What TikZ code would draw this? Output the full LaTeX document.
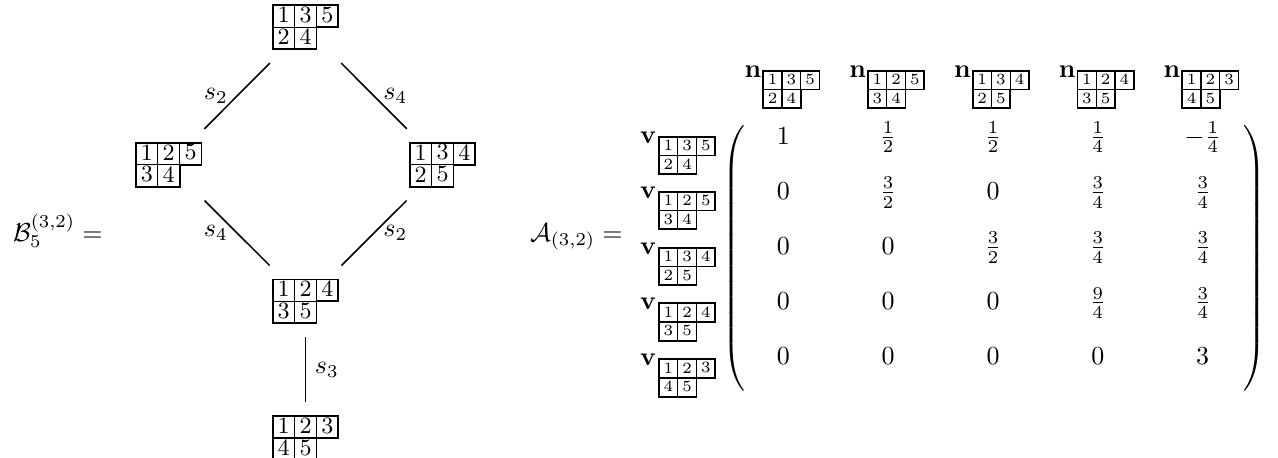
\documentclass[tikz,border=0pt]{standalone}
\usepackage{amsmath}
\tikzset{
  x=0.385pt, y=-0.385pt,
  big hub/.style={minimum width=34.7pt, minimum height=27.2pt, inner sep=0pt},
  small hub/.style={minimum width=1pt, minimum height=1pt, inner sep=0pt},
  big digit/.style={inner sep=0pt, font=\fontsize{9}{10}\selectfont, yshift=0.5pt},
  small digit/.style={inner sep=0pt, font=\fontsize{6}{7}\selectfont, yshift=0.3pt},
  yframe/.style={line width=0.7pt, line join=miter},
  ygrid/.style={line width=0.45pt},
  conn/.style={line width=0.6pt},
  entry/.style={anchor=base, inner sep=0pt},
  bold label/.style={anchor=base west, inner sep=0pt},
}
\newcommand\ytab[9]{%
  \begin{scope}[shift={(#2)}]
    \pgfmathsetmacro\ycs{#3}
    \node[#4 hub] (#1) at (0,0) {};
    \node[#4 digit] (#1-1) at (-\ycs,-0.5*\ycs) {#5};
    \node[#4 digit] (#1-2) at (0,-0.5*\ycs) {#6};
    \node[#4 digit] (#1-3) at (\ycs,-0.5*\ycs) {#7};
    \node[#4 digit] (#1-4) at (-\ycs,0.5*\ycs) {#8};
    \node[#4 digit] (#1-5) at (0,0.5*\ycs) {#9};
    \draw[ygrid] (-1.5*\ycs,0) -- (0.5*\ycs,0)
                 (-0.5*\ycs,-\ycs) -- (-0.5*\ycs,\ycs)
                 (0.5*\ycs,-\ycs) -- (0.5*\ycs,0);
    \draw[yframe] (-1.5*\ycs,-\ycs) -- (1.5*\ycs,-\ycs) -- (1.5*\ycs,0)
                  -- (0.5*\ycs,0) -- (0.5*\ycs,\ycs) -- (-1.5*\ycs,\ycs) -- cycle;
  \end{scope}}
\begin{document}
\begin{tikzpicture}
\useasboundingbox (0,0) rectangle (1278,457);

% ---------- crystal graph ----------
\ytab{tA}{305.5,27.2}{21.9}{big}{1}{3}{5}{2}{4}
\ytab{tB}{168.7,164.7}{21.9}{big}{1}{2}{5}{3}{4}
\ytab{tC}{442.5,164.7}{21.9}{big}{1}{3}{4}{2}{5}
\ytab{tD}{305.5,301.3}{21.9}{big}{1}{2}{4}{3}{5}
\ytab{tE}{305.5,438}{21.9}{big}{1}{2}{3}{4}{5}

\draw[conn] (tA) -- node[left] (lAB) {$s_2$} (tB);
\draw[conn] (tA) -- node[right] (lAC) {$s_4$} (tC);
\draw[conn] (tB) -- node[left] (lBD) {$s_4$} (tD);
\draw[conn] (tC) -- node[right] (lCD) {$s_2$} (tD);
\draw[conn] (tD) -- node[right] (lDE) {$s_3$} (tE);

\node[anchor=base east, inner sep=0pt] (Blab) at (103.2,241) {$\mathcal{B}_5^{(3,2)} =$};

% ---------- matrix ----------
\node[anchor=base east, inner sep=0pt] (Alab) at (623.2,241) {$\mathcal{A}_{(3,2)} =$};

% column headers
\foreach \a/\b/\c/\d/\e [count=\i] in {1/3/5/2/4, 1/2/5/3/4, 1/3/4/2/5, 1/2/4/3/5, 1/2/3/4/5}{
  \pgfmathsetmacro\nl{745+104.75*(\i-1)}
  \node[bold label] (n\i) at (\nl-0.8,77) {$\mathbf{n}$};
  \ytab{hn\i}{\nl+18.3+28.05,89.4}{18.7}{small}{\a}{\b}{\c}{\d}{\e}
}
% row labels
\foreach \a/\b/\c/\d/\e/\t [count=\i] in {1/3/5/2/4/136.7, 1/2/5/3/4/191.7, 1/3/4/2/5/247.7, 1/2/4/3/5/303.3, 1/2/3/4/5/359.3}{
  \node[bold label] (v\i) at (639.5,\t+6.4) {$\mathbf{v}$};
  \ytab{hv\i}{659+28.05,\t+18.7}{18.7}{small}{\a}{\b}{\c}{\d}{\e}
}

% parentheses
\node[inner sep=0pt] (lpar) at (735.5,258.3) {$\delimiterfactor=1000 \delimitershortfall=0pt \left(\vrule height 51.9pt depth 46.9pt width 0pt\right.$};
\node[inner sep=0pt] (rpar) at (1253.5,258.3) {$\delimiterfactor=1000 \delimitershortfall=0pt \left.\vrule height 51.9pt depth 46.9pt width 0pt\right)$};

% entries
\foreach \row [count=\rr] in {
  {1,\frac12,\frac12,\frac14,-\frac14},
  {0,\frac32,0,\frac34,\frac34},
  {0,0,\frac32,\frac34,\frac34},
  {0,0,0,\frac94,\frac34},
  {0,0,0,0,3}}{
  \foreach \ent [count=\cc] in \row {
    \node[entry] (m\rr-\cc) at ({783.3+104.85*(\cc-1)},{144+55.1*(\rr-1)}) {$\ent$};
  }
}
\end{tikzpicture}
\end{document}
